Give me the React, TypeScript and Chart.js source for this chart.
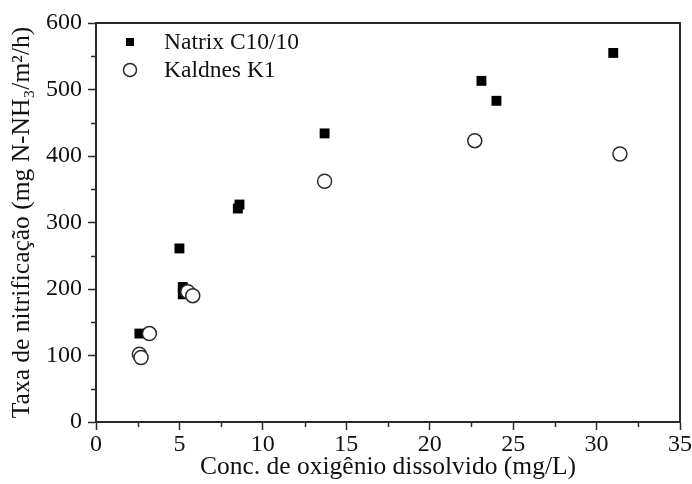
import { useEffect, useRef } from 'react';
import { Chart, registerables } from 'chart.js';

Chart.register(...registerables);

// Dissolved oxygen (mg/L) vs nitrification rate for the two carriers
const natrixX = [2.6, 5.0, 5.2, 5.2, 8.5, 8.6, 13.7, 23.1, 24.0, 31.0];
const natrixY = [133, 261, 203, 192, 321, 327, 434, 513, 483, 555];
const kaldnesX = [2.6, 2.7, 3.2, 5.5, 5.8, 13.7, 22.7, 31.4];
const kaldnesY = [102, 97, 133, 196, 190, 362, 423, 403];

const seriesNames = ['Natrix C10/10', 'Kaldnes K1'];
const xTitle = 'Conc. de oxigênio dissolvido (mg/L)';
const yTitle = 'Taxa de nitrificação (mg N-NH₃/m²/h)';

const FONT = '"Liberation Serif", "Times New Roman", serif';
const INK = '#111';
const LINE = '#2a2a2a';

const toPoints = (xs: number[], ys: number[]) => xs.map((x, i) => ({ x, y: ys[i] }));

// Frame, minor ticks and an in-plot legend
const framePlugin = {
  id: 'frameAndLegend',
  afterDraw(chart: any) {
    const { ctx, chartArea: a, scales } = chart;
    ctx.save();
    ctx.strokeStyle = LINE;
    ctx.lineWidth = 2;
    ctx.strokeRect(a.left, a.top, a.right - a.left, a.bottom - a.top);

    ctx.lineWidth = 1.5;
    ctx.beginPath();
    for (let v = 2.5; v < 35; v += 5) {
      const px = Math.round(scales.x.getPixelForValue(v)) + 0.5;
      ctx.moveTo(px, a.bottom);
      ctx.lineTo(px, a.bottom + 5);
    }
    for (let v = 50; v < 600; v += 100) {
      const py = Math.round(scales.y.getPixelForValue(v)) + 0.5;
      ctx.moveTo(a.left, py);
      ctx.lineTo(a.left - 5, py);
    }
    ctx.stroke();

    // legend entries
    const mx = a.left + 34;
    const tx = a.left + 68;
    chart.data.datasets.forEach((ds: any, i: number) => {
      const y = a.top + 19 + i * 28;
      ctx.beginPath();
      if (ds.pointStyle === 'rect') {
        ctx.fillStyle = '#000';
        ctx.fillRect(mx - 4, y - 4, 8, 8);
      } else {
        ctx.fillStyle = '#fff';
        ctx.strokeStyle = LINE;
        ctx.lineWidth = 1.5;
        ctx.arc(mx, y, 6.5, 0, Math.PI * 2);
        ctx.fill();
        ctx.stroke();
      }
      ctx.fillStyle = INK;
      ctx.font = `23.5px ${FONT}`;
      ctx.textBaseline = 'middle';
      ctx.textAlign = 'left';
      ctx.fillText(ds.label, tx, y + 1);
    });
    ctx.restore();
  },
};

export default function App() {
  const canvasRef = useRef<HTMLCanvasElement | null>(null);

  useEffect(() => {
    if (!canvasRef.current) return;
    const chart = new Chart(canvasRef.current, {
      type: 'scatter',
      data: {
        datasets: [
          {
            label: seriesNames[0],
            data: toPoints(natrixX, natrixY),
            pointStyle: 'rect',
            pointRadius: 7,
            backgroundColor: '#000',
            borderColor: '#000',
            borderWidth: 0,
            order: 1,
          },
          {
            label: seriesNames[1],
            data: toPoints(kaldnesX, kaldnesY),
            pointStyle: 'circle',
            pointRadius: 7,
            backgroundColor: '#fff',
            borderColor: LINE,
            borderWidth: 1.5,
            order: 0,
          },
        ],
      },
      options: {
        responsive: false,
        animation: false,
        layout: { padding: { top: 23, right: 9, left: 0, bottom: 0 } },
        plugins: { legend: { display: false }, tooltip: { enabled: false } },
        scales: {
          x: {
            type: 'linear',
            min: 0,
            max: 35,
            afterFit: (s: any) => { s.height = 62; },
            ticks: { stepSize: 5, color: INK, font: { family: FONT, size: 24 }, padding: 0, maxRotation: 0 },
            grid: { drawOnChartArea: false, tickLength: 8, tickColor: LINE, tickWidth: 1.5 },
            border: { display: true, color: LINE, width: 2 },
            title: { display: true, text: xTitle, color: INK, font: { family: FONT, size: 25.5 }, padding: { top: 0, bottom: 1 } },
          },
          y: {
            type: 'linear',
            min: 0,
            max: 600,
            afterFit: (s: any) => { s.width = 96; },
            ticks: { stepSize: 100, color: INK, font: { family: FONT, size: 24 }, padding: 6 },
            grid: { drawOnChartArea: false, tickLength: 8, tickColor: LINE, tickWidth: 1.5 },
            border: { display: true, color: LINE, width: 2 },
            title: { display: true, text: yTitle, color: INK, font: { family: FONT, size: 25.5 }, padding: { top: 7, bottom: 0 } },
          },
        },
      },
      plugins: [framePlugin],
    });
    return () => chart.destroy();
  }, []);

  return (
    <div style={{ position: 'fixed', left: 0, top: 0, width: 692, height: 484, background: '#fff' }}>
      <canvas ref={canvasRef} width={692} height={484} />
    </div>
  );
}
